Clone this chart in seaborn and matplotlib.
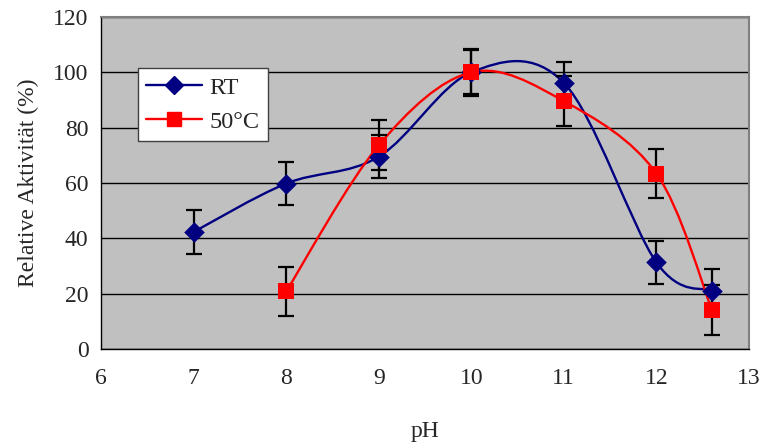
import numpy as np
import seaborn as sns
from matplotlib import pyplot as plt
from matplotlib.lines import Line2D
from matplotlib.path import Path
from matplotlib.patches import PathPatch

# data
ph_rt = [7, 8, 9, 10, 11, 12, 12.6]
act_rt = [42.3, 59.8, 69.5, 100, 96.2, 31.3, 21.1]
err_rt = [7.8, 7.8, 7.8, 8.0, 7.6, 7.8, 7.7]

ph_50 = [8, 9, 10, 11, 12, 12.6]
act_50 = [20.8, 73.6, 100, 89.6, 63.4, 14.1]
err_50 = [9.0, 9.0, 8.6, 9.0, 8.8, 9.0]

labels = ["RT", "50°C"]
colors = ["#000080", "#FF0000"]
markers = ["D", "s"]


def smooth_path(x, y):
    """Excel-style smoothed line as cubic Bezier segments"""
    pts = np.column_stack([x, y]).astype(float)
    ext = np.vstack([pts[0], pts, pts[-1]])
    verts = [pts[0]]
    codes = [Path.MOVETO]
    for i in range(1, len(ext) - 2):
        p0, p1, p2, p3 = ext[i - 1], ext[i], ext[i + 1], ext[i + 2]
        verts += [p1 + (p2 - p0) / 6, p2 - (p3 - p1) / 6, p2]
        codes += [Path.CURVE4] * 3
    return Path(verts, codes)


sns.set_style("white")
plt.rcParams["font.family"] = ["Liberation Serif", "DejaVu Serif"]
plt.rcParams["font.size"] = 17

fig = plt.figure(figsize=(7.61, 4.44), dpi=100)
ax = fig.add_axes([101 / 761, 1 - 349 / 444, 648 / 761, 332 / 444])
ax.set_facecolor("#C0C0C0")

series = [(ph_rt, act_rt, err_rt), (ph_50, act_50, err_50)]
for (x, y, e), col, mk, lab in zip(series, colors, markers, labels):
    ax.add_patch(PathPatch(smooth_path(x, y), facecolor="none", edgecolor=col,
                           lw=1.7, zorder=3))
    ax.errorbar(x, y, yerr=e, fmt="none", ecolor="black", elinewidth=1.6,
                capsize=5.5, capthick=1.6, zorder=4)
    sns.scatterplot(x=x, y=y, ax=ax, marker=mk, color=col, s=120 if mk == "s" else 110,
                    edgecolor=col, linewidth=0, zorder=5, legend=False)

ax.set_xlim(6, 13)
ax.set_ylim(0, 120)
ax.set_xticks(range(6, 14))
ax.set_yticks(range(0, 121, 20))
ax.yaxis.grid(True, color="black", lw=1)
ax.set_axisbelow(True)
for s in ["top", "right"]:
    ax.spines[s].set_color("#808080")
    ax.spines[s].set_linewidth(1.5)
for s in ["left", "bottom"]:
    ax.spines[s].set_color("black")
    ax.spines[s].set_linewidth(1)
ax.tick_params(direction="out", length=5, width=1, color="black", labelsize=17)
ax.tick_params(axis="x", pad=9)
ax.tick_params(axis="y", pad=4)
ax.set_xlabel("pH", fontsize=17, labelpad=23)
ax.set_ylabel("Relative Aktivität (%)", fontsize=17, labelpad=10)

handles = [Line2D([], [], color=c, marker=m, lw=1.7, ms=9 if m == "D" else 10, label=l)
           for c, m, l in zip(colors, markers, labels)]
leg = ax.legend(handles=handles, loc="upper left", bbox_to_anchor=(0.057, 0.846),
                borderaxespad=0, frameon=True, fancybox=False, framealpha=1,
                edgecolor="#404040", fontsize=17.5, handlelength=2.3,
                handletextpad=0.3, borderpad=0.35, labelspacing=0.5)
leg.get_frame().set_linewidth(1)

fig.savefig("out.png", dpi=100)
